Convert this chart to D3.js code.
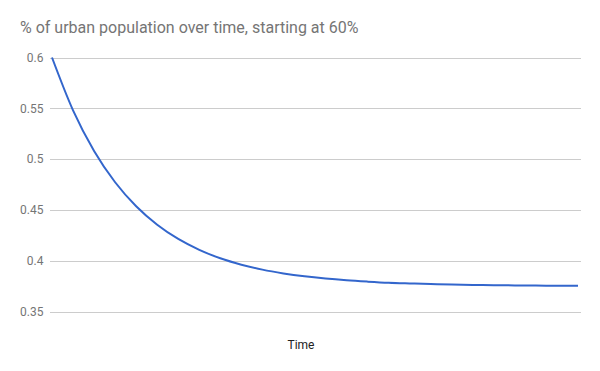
<!DOCTYPE html>
<html>
<head>
<meta charset="utf-8">
<script src="https://cdn.jsdelivr.net/npm/d3@7"></script>
<style>
  body { margin: 0; background: #fff; }
  text { font-family: Roboto, "Noto Sans", sans-serif; }
</style>
</head>
<body>
<div id="main"></div>
<script>
const ctx = {
    w: 600,
    h: 371,
    left: 49.5,
    right: 581,
    top: 57.5,
    bottom: 311.5,
    LINE_COLOR: "#3366cc",
    GRID_COLOR: "#cccccc",
};

// chart values
const TITLE = "% of urban population over time, starting at 60%";
const X_LABEL = "Time";
const Y_TICKS = [0.35, 0.4, 0.45, 0.5, 0.55, 0.6];
const TIME_STEPS = [0, 1, 2, 3, 4, 5, 6, 7, 8, 9, 10, 11, 12, 13, 14, 15, 16, 17, 18, 19, 20, 21, 22, 23, 24, 25];
const URBAN_SHARE = [0.6, 0.548, 0.508, 0.4772, 0.4536, 0.4354, 0.4214, 0.4107, 0.4024, 0.3961,
    0.3912, 0.3875, 0.3846, 0.3824, 0.3807, 0.3794, 0.3783, 0.3776, 0.377, 0.3765,
    0.3762, 0.3759, 0.3757, 0.3755, 0.3754, 0.3753];

function createViz() {
    let svgEl = d3.select("#main").append("svg")
        .attr("width", ctx.w)
        .attr("height", ctx.h);

    let x = d3.scaleLinear()
        .domain(d3.extent(TIME_STEPS))
        .range([52, 578]);
    let y = d3.scaleLinear()
        .domain([0.35, 0.6])
        .range([ctx.bottom, ctx.top]);

    // title
    svgEl.append("text")
        .attr("x", 20)
        .attr("y", 33)
        .style("font-size", "16px")
        .style("fill", "#757575")
        .text(TITLE);

    // horizontal gridlines + tick labels
    let yAxis = d3.axisLeft(y)
        .tickValues(Y_TICKS)
        .tickSize(-(ctx.right - ctx.left))
        .tickPadding(6)
        .tickFormat(d3.format("~g"));
    let axisG = svgEl.append("g")
        .attr("transform", `translate(${ctx.left},0)`)
        .call(yAxis);
    axisG.select(".domain").remove();
    axisG.selectAll(".tick line")
        .attr("stroke", ctx.GRID_COLOR)
        .attr("shape-rendering", "crispEdges");
    axisG.selectAll(".tick text")
        .attr("font-family", "Roboto, sans-serif")
        .attr("font-size", 12)
        .attr("fill", "#757575");

    // the series
    let line = d3.line()
        .x((d, i) => x(TIME_STEPS[i]))
        .y((d) => y(d))
        .curve(d3.curveMonotoneX);
    svgEl.append("path")
        .datum(URBAN_SHARE)
        .attr("fill", "none")
        .attr("stroke", ctx.LINE_COLOR)
        .attr("stroke-width", 2)
        .attr("d", line);

    // x axis title
    svgEl.append("text")
        .attr("x", 301)
        .attr("y", 349)
        .attr("text-anchor", "middle")
        .style("font-size", "12px")
        .style("fill", "#222")
        .text(X_LABEL);
};

createViz();
</script>
</body>
</html>
